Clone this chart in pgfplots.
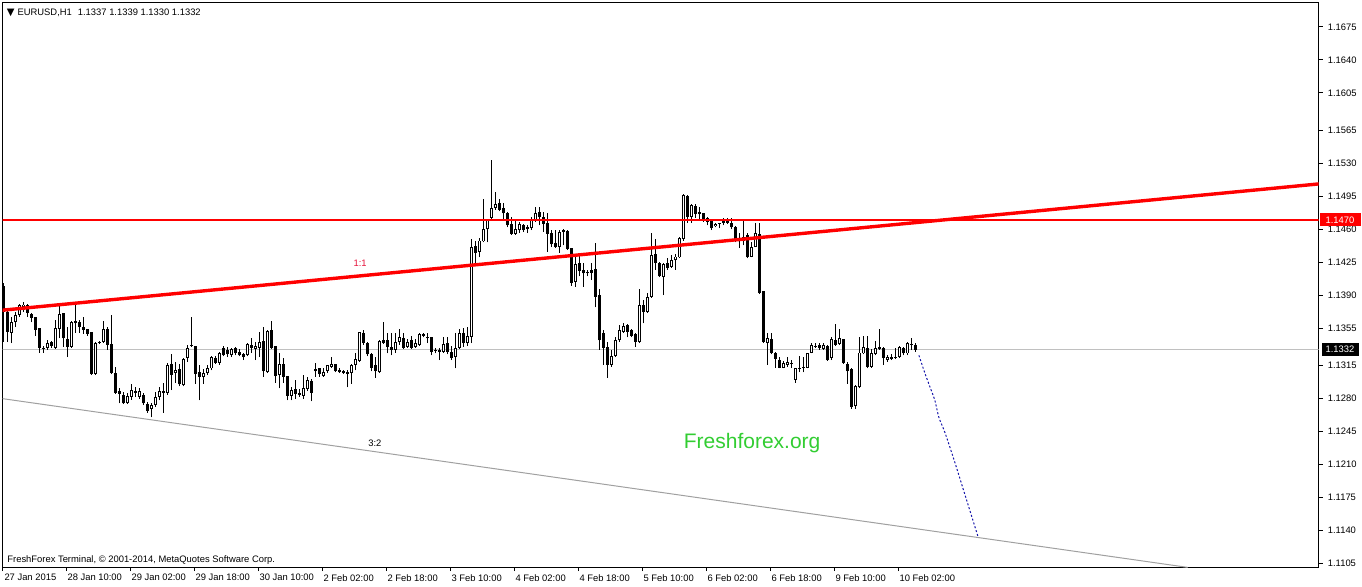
\documentclass[border=0pt]{standalone}
\usepackage{pgfplots}
\pgfplotsset{compat=1.18}
\usepackage{pgfplotstable}
\usepackage{fontspec}
\setmainfont{Liberation Sans}
\newfontfamily\dejavu{DejaVu Sans}
\newcommand\mtfont{\fontsize{4.7}{5.5}\selectfont}
\definecolor{ffgreen}{RGB}{50,205,50}
\definecolor{bidgray}{RGB}{192,192,192}
\definecolor{lgray}{RGB}{160,160,160}
\definecolor{projblue}{RGB}{20,20,170}
\definecolor{mtred}{RGB}{255,0,0}
\definecolor{lblred}{RGB}{230,20,60}

\pgfplotstableread{
i o h l c
0 1.1400 1.1403 1.1340 1.1372
1 1.1372 1.1376 1.1340 1.1351
2 1.1350 1.1367 1.1339 1.1361
3 1.1361 1.1372 1.1356 1.1369
4 1.1369 1.1381 1.1367 1.1379
5 1.1377 1.1383 1.1372 1.1380
6 1.1379 1.1381 1.1367 1.1371
7 1.1370 1.1371 1.1361 1.1366
8 1.1367 1.1367 1.1347 1.1353
9 1.1355 1.1355 1.1329 1.1334
10 1.1334 1.1336 1.1329 1.1333
11 1.1334 1.1342 1.1332 1.1339
12 1.1340 1.1341 1.1334 1.1336
13 1.1334 1.1364 1.1333 1.1355
14 1.1354 1.1381 1.1344 1.1370
15 1.1371 1.1371 1.1335 1.1344
16 1.1343 1.1356 1.1324 1.1335
17 1.1335 1.1363 1.1334 1.1361
18 1.1362 1.1379 1.1350 1.1360
19 1.1361 1.1364 1.1350 1.1356
20 1.1356 1.1367 1.1349 1.1353
21 1.1354 1.1354 1.1347 1.1349
22 1.1351 1.1351 1.1305 1.1306
23 1.1306 1.1340 1.1305 1.1339
24 1.1340 1.1341 1.1338 1.1339
25 1.1340 1.1362 1.1339 1.1354
26 1.1354 1.1356 1.1332 1.1337
27 1.1338 1.1369 1.1306 1.1307
28 1.1307 1.1314 1.1285 1.1286
29 1.1288 1.1291 1.1275 1.1285
30 1.1284 1.1287 1.1274 1.1275
31 1.1275 1.1286 1.1274 1.1283
32 1.1282 1.1295 1.1279 1.1289
33 1.1288 1.1292 1.1282 1.1286
34 1.1282 1.1291 1.1280 1.1288
35 1.1284 1.1286 1.1273 1.1275
36 1.1274 1.1276 1.1265 1.1267
37 1.1269 1.1275 1.1260 1.1273
38 1.1273 1.1287 1.1271 1.1282
39 1.1282 1.1292 1.1278 1.1288
40 1.1286 1.1297 1.1265 1.1288
41 1.1286 1.1318 1.1284 1.1316
42 1.1317 1.1327 1.1289 1.1305
43 1.1307 1.1319 1.1297 1.1310
44 1.1311 1.1317 1.1293 1.1295
45 1.1294 1.1323 1.1293 1.1322
46 1.1323 1.1337 1.1319 1.1334
47 1.1336 1.1367 1.1335 1.1337
48 1.1336 1.1336 1.1296 1.1306
49 1.1308 1.1316 1.1278 1.1303
50 1.1303 1.1311 1.1296 1.1307
51 1.1307 1.1316 1.1305 1.1312
52 1.1312 1.1325 1.1310 1.1324
53 1.1323 1.1325 1.1317 1.1318
54 1.1318 1.1330 1.1316 1.1328
55 1.1334 1.1336 1.1325 1.1326
56 1.1332 1.1335 1.1324 1.1327
57 1.1326 1.1334 1.1324 1.1333
58 1.1334 1.1335 1.1326 1.1328
59 1.1330 1.1333 1.1325 1.1326
60 1.1327 1.1328 1.1321 1.1324
61 1.1326 1.1339 1.1325 1.1338
62 1.1337 1.1344 1.1329 1.1334
63 1.1333 1.1340 1.1321 1.1336
64 1.1334 1.1351 1.1324 1.1340
65 1.1341 1.1356 1.1303 1.1309
66 1.1308 1.1353 1.1307 1.1352
67 1.1353 1.1363 1.1333 1.1334
68 1.1336 1.1336 1.1297 1.1304
69 1.1305 1.1328 1.1291 1.1317
70 1.1317 1.1323 1.1297 1.1303
71 1.1304 1.1304 1.1278 1.1283
72 1.1283 1.1292 1.1278 1.1289
73 1.1290 1.1300 1.1280 1.1285
74 1.1286 1.1290 1.1282 1.1284
75 1.1283 1.1305 1.1280 1.1291
76 1.1290 1.1303 1.1288 1.1300
77 1.1299 1.1301 1.1277 1.1286
78 1.1311 1.1318 1.1303 1.1309
79 1.1312 1.1313 1.1303 1.1306
80 1.1304 1.1312 1.1303 1.1308
81 1.1309 1.1316 1.1307 1.1316
82 1.1314 1.1324 1.1313 1.1317
83 1.1317 1.1317 1.1308 1.1309
84 1.1310 1.1313 1.1307 1.1308
85 1.1309 1.1310 1.1306 1.1307
86 1.1308 1.1310 1.1292 1.1306
87 1.1307 1.1317 1.1296 1.1316
88 1.1316 1.1329 1.1310 1.1322
89 1.1320 1.1351 1.1319 1.1351
90 1.1350 1.1353 1.1337 1.1339
91 1.1339 1.1340 1.1325 1.1327
92 1.1327 1.1329 1.1309 1.1313
93 1.1316 1.1324 1.1302 1.1309
94 1.1308 1.1342 1.1307 1.1341
95 1.1342 1.1361 1.1338 1.1339
96 1.1342 1.1350 1.1328 1.1335
97 1.1335 1.1350 1.1326 1.1332
98 1.1332 1.1350 1.1329 1.1340
99 1.1340 1.1354 1.1337 1.1345
100 1.1344 1.1350 1.1333 1.1334
101 1.1335 1.1343 1.1334 1.1340
102 1.1342 1.1347 1.1333 1.1334
103 1.1335 1.1343 1.1334 1.1339
104 1.1337 1.1350 1.1336 1.1349
105 1.1349 1.1350 1.1345 1.1347
106 1.1346 1.1350 1.1339 1.1344
107 1.1345 1.1345 1.1326 1.1330
108 1.1332 1.1334 1.1328 1.1331
109 1.1332 1.1334 1.1321 1.1330
110 1.1330 1.1346 1.1329 1.1338
111 1.1339 1.1345 1.1327 1.1330
112 1.1330 1.1336 1.1321 1.1323
113 1.1324 1.1350 1.1312 1.1334
114 1.1334 1.1354 1.1333 1.1350
115 1.1350 1.1355 1.1335 1.1339
116 1.1339 1.1356 1.1336 1.1347
117 1.1346 1.1450 1.1339 1.1441
118 1.1442 1.1448 1.1424 1.1435
119 1.1436 1.1451 1.1430 1.1448
120 1.1447 1.1492 1.1446 1.1460
121 1.1460 1.1471 1.1446 1.1471
122 1.1472 1.1534 1.1470 1.1483
123 1.1483 1.1500 1.1481 1.1487
124 1.1488 1.1492 1.1479 1.1481
125 1.1483 1.1488 1.1470 1.1477
126 1.1477 1.1478 1.1462 1.1464
127 1.1466 1.1473 1.1454 1.1455
128 1.1455 1.1469 1.1454 1.1460
129 1.1459 1.1468 1.1456 1.1466
130 1.1464 1.1466 1.1457 1.1459
131 1.1462 1.1464 1.1456 1.1460
132 1.1461 1.1473 1.1459 1.1471
133 1.1470 1.1484 1.1468 1.1477
134 1.1478 1.1484 1.1464 1.1473
135 1.1473 1.1478 1.1457 1.1466
136 1.1467 1.1477 1.1436 1.1455
137 1.1456 1.1459 1.1441 1.1444
138 1.1445 1.1459 1.1440 1.1441
139 1.1441 1.1459 1.1435 1.1457
140 1.1457 1.1460 1.1443 1.1459
141 1.1458 1.1459 1.1438 1.1439
142 1.1440 1.1440 1.1400 1.1403
143 1.1404 1.1434 1.1399 1.1423
144 1.1424 1.1434 1.1410 1.1416
145 1.1417 1.1424 1.1399 1.1413
146 1.1415 1.1417 1.1410 1.1413
147 1.1417 1.1424 1.1406 1.1414
148 1.1418 1.1445 1.1377 1.1388
149 1.1390 1.1396 1.1332 1.1342
150 1.1350 1.1353 1.1316 1.1334
151 1.1335 1.1340 1.1302 1.1316
152 1.1316 1.1332 1.1314 1.1325
153 1.1325 1.1345 1.1324 1.1342
154 1.1342 1.1358 1.1340 1.1353
155 1.1351 1.1360 1.1350 1.1357
156 1.1358 1.1359 1.1345 1.1351
157 1.1353 1.1354 1.1345 1.1347
158 1.1349 1.1350 1.1335 1.1340
159 1.1340 1.1397 1.1339 1.1379
160 1.1380 1.1385 1.1360 1.1372
161 1.1372 1.1392 1.1371 1.1388
162 1.1388 1.1456 1.1387 1.1433
163 1.1434 1.1450 1.1417 1.1424
164 1.1424 1.1425 1.1409 1.1410
165 1.1409 1.1424 1.1390 1.1423
166 1.1424 1.1429 1.1417 1.1419
167 1.1420 1.1433 1.1419 1.1427
168 1.1427 1.1434 1.1417 1.1431
169 1.1430 1.1452 1.1429 1.1451
170 1.1450 1.1498 1.1448 1.1496
171 1.1495 1.1496 1.1467 1.1473
172 1.1473 1.1487 1.1467 1.1486
173 1.1485 1.1487 1.1472 1.1476
174 1.1478 1.1484 1.1471 1.1476
175 1.1477 1.1477 1.1468 1.1469
176 1.1468 1.1473 1.1464 1.1472
177 1.1471 1.1471 1.1459 1.1461
178 1.1463 1.1467 1.1462 1.1466
179 1.1467 1.1467 1.1461 1.1466
180 1.1467 1.1472 1.1464 1.1469
181 1.1470 1.1472 1.1466 1.1467
182 1.1467 1.1472 1.1460 1.1462
183 1.1462 1.1463 1.1446 1.1447
184 1.1450 1.1456 1.1440 1.1447
185 1.1447 1.1469 1.1443 1.1452
186 1.1454 1.1456 1.1429 1.1430
187 1.1431 1.1446 1.1430 1.1441
188 1.1441 1.1467 1.1441 1.1456
189 1.1455 1.1467 1.1391 1.1392
190 1.1394 1.1394 1.1339 1.1340
191 1.1339 1.1350 1.1316 1.1344
192 1.1343 1.1350 1.1327 1.1328
193 1.1329 1.1330 1.1313 1.1322
194 1.1321 1.1324 1.1312 1.1313
195 1.1313 1.1320 1.1312 1.1318
196 1.1316 1.1324 1.1314 1.1319
197 1.1318 1.1321 1.1313 1.1317
198 1.1300 1.1313 1.1297 1.1312
199 1.1313 1.1325 1.1308 1.1312
200 1.1314 1.1324 1.1308 1.1313
201 1.1313 1.1329 1.1312 1.1328
202 1.1329 1.1339 1.1328 1.1337
203 1.1336 1.1339 1.1334 1.1335
204 1.1337 1.1339 1.1332 1.1334
205 1.1333 1.1339 1.1332 1.1337
206 1.1336 1.1337 1.1320 1.1321
207 1.1323 1.1346 1.1321 1.1343
208 1.1342 1.1359 1.1336 1.1337
209 1.1338 1.1354 1.1337 1.1344
210 1.1343 1.1343 1.1317 1.1318
211 1.1317 1.1319 1.1296 1.1309
212 1.1311 1.1312 1.1269 1.1271
213 1.1272 1.1294 1.1269 1.1293
214 1.1292 1.1345 1.1291 1.1329
215 1.1328 1.1347 1.1327 1.1335
216 1.1334 1.1347 1.1312 1.1314
217 1.1314 1.1333 1.1313 1.1328
218 1.1327 1.1341 1.1326 1.1334
219 1.1335 1.1354 1.1332 1.1333
220 1.1334 1.1335 1.1316 1.1323
221 1.1321 1.1326 1.1319 1.1324
222 1.1324 1.1327 1.1321 1.1322
223 1.1324 1.1334 1.1322 1.1323
224 1.1324 1.1336 1.1323 1.1335
225 1.1334 1.1335 1.1326 1.1328
226 1.1328 1.1340 1.1326 1.1339
227 1.1338 1.1344 1.1332 1.1337
228 1.1337 1.1339 1.1330 1.1332
}\candles

\begin{document}
\begin{tikzpicture}
\useasboundingbox (-1.25pt,-9.5pt) rectangle (679.75pt,283.5pt);
\begin{axis}[
  at={(0pt,0pt)}, anchor=south west,
  scale only axis, width=658pt, height=282pt,
  xmin=-0.3, xmax=328.7, ymin=1.1101, ymax=1.17005,
  clip mode=individual,
  axis line style={black, line width=0.5pt},
  tick style={black, line width=0.5pt},
  tick align=outside, major tick length=2pt,
  xtick pos=left, ytick pos=right,
  yticklabel pos=right,
  xtick={-0.2,15.575,31.575,47.575,63.575,79.575,95.575,111.575,127.575,143.575,159.575,175.575,191.575,207.575,223.575},
  xticklabels={27 Jan 2015,28 Jan 10:00,29 Jan 02:00,29 Jan 18:00,30 Jan 10:00,2 Feb 02:00,2 Feb 18:00,3 Feb 10:00,4 Feb 02:00,4 Feb 18:00,5 Feb 10:00,6 Feb 02:00,6 Feb 18:00,9 Feb 10:00,10 Feb 02:00},
  xticklabel style={anchor=north west, inner sep=0pt, xshift=0.6pt, yshift=-1.5pt, font=\mtfont},
  ytick={1.1105,1.1140,1.1175,1.1210,1.1245,1.1280,1.1315,1.1355,1.1390,1.1425,1.1460,1.1495,1.1530,1.1565,1.1605,1.1640,1.1675},
  yticklabels={1.1105,1.1140,1.1175,1.1210,1.1245,1.1280,1.1315,1.1355,1.1390,1.1425,1.1460,1.1495,1.1530,1.1565,1.1605,1.1640,1.1675},
  yticklabel style={anchor=west, inner sep=0pt, xshift=2.5pt, font=\mtfont},
  grid=none,
]
% bid line
\addplot[forget plot, draw=bidgray, line width=0.5pt] coordinates {(-1,1.1332) (330,1.1332)};
% 3:2 line
\addplot[forget plot, draw=lgray, line width=0.5pt] coordinates {(-1,1.12804) (296,1.11006)};
% wicks
\addplot[forget plot, draw=none, mark=none,
  error bars/.cd, y dir=plus, y explicit, error mark=none,
  error bar style={draw=black, line width=0.5pt, solid}]
  table[x=i, y=l, y error plus expr={\thisrow{h}-\thisrow{l}}] \candles;
% bodies
\addplot[forget plot, draw=none, mark=none,
  error bars/.cd, y dir=plus, y explicit, error mark=none,
  error bar style={draw=black, line width=1.6pt, solid, line cap=butt}]
  table[x=i, y expr={min(\thisrow{o},\thisrow{c})}, y error plus expr={abs(\thisrow{c}-\thisrow{o})}] \candles;
% bull interiors
\addplot[forget plot, draw=none, mark=none,
  restrict expr to domain={\thisrow{c}-\thisrow{o}}{0.00025:1},
  error bars/.cd, y dir=plus, y explicit, error mark=none,
  error bar style={draw=white, line width=0.55pt, solid, line cap=butt}]
  table[x=i, y expr={\thisrow{o}+0.0001}, y error plus expr={\thisrow{c}-\thisrow{o}-0.0002}] \candles;
% red horizontal level
\addplot[forget plot, draw=mtred, line width=0.75pt] coordinates {(-1,1.1470) (330,1.1470)};
% red trend line 1:1
\addplot[forget plot, draw=mtred, line width=1.7pt] coordinates {(-1,1.13737) (330,1.15087)};
% projection
\addplot[forget plot, draw=projblue, line width=0.5pt, dash pattern=on 1pt off 1pt, smooth] coordinates {
 (228.8,1.1326) (230.3,1.1307) (231.6,1.1292) (232.8,1.1278) (233.8,1.1260)
 (235.3,1.1244) (237.8,1.1212) (240.3,1.1178) (243.6,1.1133)};

\node[font=\mtfont, text=lblred] at (axis cs:89.1,1.1424) {1:1};
\node[font=\mtfont, text=black] at (axis cs:92.8,1.1233) {3:2};
\node[font=\fontsize{10.5}{12}\selectfont, text=ffgreen] at (axis cs:187.1,1.1233) {Freshforex.org};
\node[font=\mtfont, anchor=west, inner sep=0pt] at ([xshift=2pt,yshift=-5pt]rel axis cs:0,1) {{\dejavu\fontsize{5}{5}\selectfont ▼}\hspace{1.5pt}EURUSD,H1\hspace{3pt}1.1337 1.1339 1.1330 1.1332};
\node[font=\mtfont, anchor=west, inner sep=0pt] at ([xshift=2.25pt,yshift=3.5pt]rel axis cs:0,0) {FreshForex Terminal, © 2001-2014, MetaQuotes Software Corp.};
\node[font=\mtfont, anchor=west, fill=mtred, text=white, inner sep=0pt, minimum width=20.5pt, minimum height=6.5pt] at ([xshift=0.3pt]axis cs:328.7,1.1470) {1.1470};
\node[font=\mtfont, anchor=west, fill=black, text=white, inner sep=0pt, minimum width=18.5pt, minimum height=6.5pt] at ([xshift=1.3pt]axis cs:328.7,1.1332) {1.1332};
\end{axis}
\end{tikzpicture}
\end{document}
